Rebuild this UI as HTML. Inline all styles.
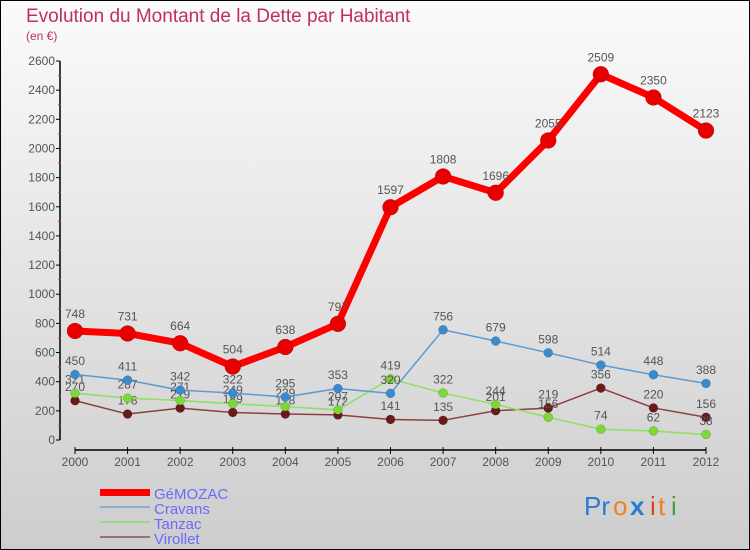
<!DOCTYPE html>
<html><head><meta charset="utf-8"><style>
body{margin:0;width:750px;height:550px;overflow:hidden}
svg{display:block}
text{font-family:"Liberation Sans",sans-serif}
</style></head><body>
<svg id="c" width="750" height="550">
<defs><linearGradient id="bg" x1="0" y1="0" x2="0" y2="1"><stop offset="0" stop-color="#fbfbfb"/><stop offset="1" stop-color="#cdcdcd"/></linearGradient></defs>
<rect x="0.5" y="0.5" width="749" height="549" fill="url(#bg)" stroke="#000"/>
<text x="26" y="22" font-size="19" fill="#c0305a">Evolution du Montant de la Dette par Habitant</text>
<text x="26" y="40" font-size="12" fill="#c0305a">(en €)</text>
<g id="axes"></g><g id="series"></g>
<g>
<rect x="100" y="489" width="50" height="7" fill="#f00"/>
<text x="154" y="499" font-size="15" fill="#6a6aff">GéMOZAC</text>
<line x1="100" y1="507" x2="150" y2="507" stroke="#8ab0cc" stroke-width="2"/>
<text x="154" y="514" font-size="15" fill="#6a6aff">Cravans</text>
<line x1="100" y1="522" x2="150" y2="522" stroke="#9ad88a" stroke-width="2"/>
<text x="154" y="529" font-size="15" fill="#6a6aff">Tanzac</text>
<line x1="100" y1="537" x2="150" y2="537" stroke="#9a7070" stroke-width="2"/>
<text x="154" y="544" font-size="15" fill="#6a6aff">Virollet</text>
</g>
<g font-size="26">
<text x="584" y="515" fill="#2a7ad0">Pr</text><text x="613" y="515" fill="#f08020">o</text><text x="630" y="515" fill="#2a7ad0" font-weight="bold">x</text><text x="650" y="515" fill="#e04020">i</text><text x="658" y="515" fill="#f08020">t</text><text x="671" y="515" fill="#40a040">i</text>
</g>
</svg>
<script>
const years=[2000,2001,2002,2003,2004,2005,2006,2007,2008,2009,2010,2011,2012];
const yTicks=[0,200,400,600,800,1000,1200,1400,1600,1800,2000,2200,2400,2600];
const gemozac=[748,731,664,504,638,797,1597,1808,1696,2055,2509,2350,2123];
const cravans=[450,411,342,322,295,353,320,756,679,598,514,448,388];
const tanzac=[321,287,271,249,229,207,419,322,244,156,74,62,38];
const virollet=[270,178,219,189,178,172,141,135,201,219,356,220,156];
const NS='http://www.w3.org/2000/svg';
const X=i=>75+i*(706-75)/(years.length-1);
const Y=v=>440-v*(440-61)/2600;
function mk(t,a,p){const e=document.createElementNS(NS,t);for(const k in a)e.setAttribute(k,a[k]);p.appendChild(e);return e;}
const ax=document.getElementById('axes');
const yl=mk('line',{x1:60,y1:61,x2:60,y2:440,stroke:'#000','stroke-width':1.5},ax);


yTicks.forEach(v=>{
 mk('line',{x1:56,y1:Y(v),x2:60,y2:Y(v),stroke:'#000'},ax);
 if(v<2600)mk('line',{x1:58,y1:Y(v+100),x2:61,y2:Y(v+100),stroke:'#e03030'},ax);
 const t=mk('text',{x:55,y:Y(v)+4,'font-size':12,fill:'#555','text-anchor':'end'},ax);t.textContent=v;
 
 
});
const xl=mk('line',{x1:75,y1:450,x2:706,y2:450,stroke:'#000','stroke-width':1.5},ax);


years.forEach((y,i)=>{
 mk('line',{x1:X(i),y1:447,x2:X(i),y2:454,stroke:'#000'},ax);
 const t=mk('text',{x:X(i),y:466,'font-size':12,fill:'#555','text-anchor':'middle'},ax);t.textContent=y;
 
 
});
const sg=document.getElementById('series');
function series(d,name,col,w,r,dot){
 const g=mk('g',{},sg);
 
 
 mk('polyline',{points:d.map((v,i)=>X(i)+','+Y(v)).join(' '),fill:'none',stroke:col,'stroke-width':w,'stroke-linejoin':'round'},g);
 d.forEach((v,i)=>{
  const c=mk('circle',{cx:X(i),cy:Y(v),r:r,fill:dot,stroke:'rgba(0,0,0,0.25)','stroke-width':0.5},g);
  
  
  const t=mk('text',{x:X(i),y:Y(v)-r-5,'font-size':12,fill:'#555','text-anchor':'middle'},g);t.textContent=v;
  
  
 });
}
series(virollet,'virollet','#8a4040',1.5,4.5,'#6a1a1a');
series(tanzac,'tanzac','#8ee060',1.5,4.5,'#7ad838');
series(cravans,'cravans','#5a9ad0',1.5,4.5,'#3a8ad0');
series(gemozac,'gemozac','#f00',7,8,'#e80000');
</script>
</body></html>
